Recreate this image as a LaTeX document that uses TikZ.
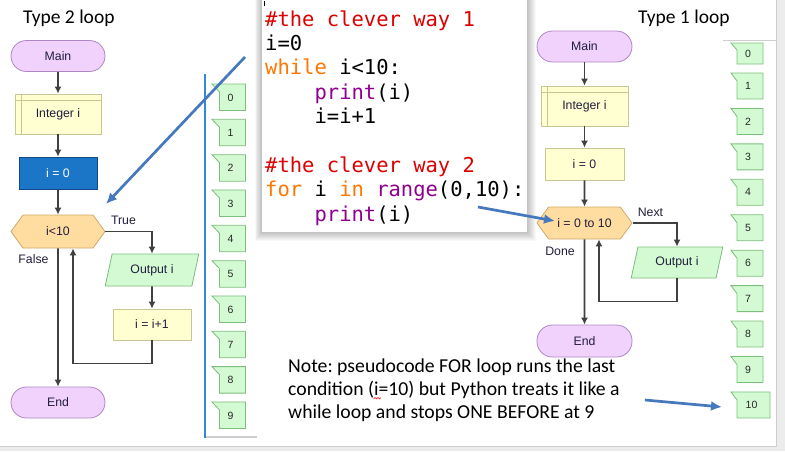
\documentclass[tikz,border=0pt]{standalone}
\usepackage{fontspec}
\setmainfont{Carlito}
\newfontfamily\chartfont{Liberation Sans}
\newfontfamily\codefont{DejaVu Sans Mono}
\usetikzlibrary{arrows.meta,shapes.geometric,shapes.symbols}
\frenchspacing
\definecolor{termfill}{RGB}{240,210,252}
\definecolor{termline}{RGB}{175,135,200}
\definecolor{procfill}{RGB}{255,255,210}
\definecolor{procline}{RGB}{200,200,150}
\definecolor{selfill}{RGB}{28,118,200}
\definecolor{selline}{RGB}{20,70,140}
\definecolor{condfill}{RGB}{255,220,160}
\definecolor{condline}{RGB}{205,170,105}
\definecolor{outfill}{RGB}{212,250,212}
\definecolor{outedge}{RGB}{125,190,125}
\definecolor{flowgrey}{RGB}{64,64,64}
\definecolor{annblue}{RGB}{70,120,190}
\definecolor{panelblue}{RGB}{55,135,215}
\definecolor{panelgrey}{RGB}{205,205,205}
\definecolor{bandgrey}{RGB}{236,236,236}
\definecolor{codered}{RGB}{221,0,0}
\definecolor{codeorange}{RGB}{255,119,0}
\definecolor{codepurple}{RGB}{144,0,144}
\definecolor{charttext}{RGB}{35,30,60}

\begin{document}
\begin{tikzpicture}[x=1pt, y=-1pt, >={Latex[length=7pt,width=7pt]},
	every node/.style={inner sep=0pt, text=charttext, font=\chartfont\fontsize{12.3}{14}\selectfont},
	term/.style={draw=termline, fill=termfill, line width=0.8pt, rounded corners=15.5pt, minimum width=94pt, minimum height=31pt},
	proc/.style={draw=procline, fill=procfill, line width=0.8pt, minimum height=32pt},
	cond/.style={signal, signal to=west and east, signal pointer angle=108, draw=condline, fill=condfill, line width=0.8pt, minimum width=94pt, minimum height=33pt},
	outp/.style={trapezium, trapezium left angle=72, trapezium right angle=108, trapezium stretches=true, draw=outedge, fill=outfill, line width=0.8pt, minimum width=94pt, minimum height=32pt},
	flow/.style={draw=flowgrey, line width=1.7pt, ->},
	bubble/.style={draw=outedge, fill=outfill, line width=0.8pt},
	bubnum/.style={font=\chartfont\fontsize{10.5}{12}\selectfont, text=black!85},
	annot/.style={draw=annblue, line width=2.7pt, -{Latex[length=11pt,width=10pt]}},
	heading/.style={font=\fontsize{19.5}{23}\selectfont, text=black, anchor=base west},
	codeline/.style={font=\codefont\fontsize{20.5}{24}\selectfont, text=black, anchor=base west},
	noteline/.style={font=\fontsize{19.7}{23}\selectfont, text=black, anchor=base west}]
	\useasboundingbox (0,0) rectangle (785,451);
	\fill[white] (0,0) rectangle (785,451);
	\fill[bandgrey] (0,446) rectangle (785,451);
	\fill[bandgrey] (776,0) rectangle (785,451);
	\draw[panelgrey, line width=0.8pt] (776,0) -- (776,446.5) -- (0,446.5);
	\draw[panelgrey, line width=0.8pt] (723,40) -- (776,40);
	\draw[panelgrey, line width=1.6pt] (205,437) -- (257,437);
	\draw[panelblue, line width=1.2pt] (205,74) -- (205,438);

	\foreach \s in {1,...,9}
		\fill[black, opacity=0.028] ({262-0.8*\s},-5) rectangle ({527+\s},{232+\s});
	\fill[white] (262,-5) rectangle (527,232);
	\draw[black, line width=0.6pt] (264,1) -- (264,6);

	\node[heading] (typeL) at (23,23) {Type 2 loop};
	\node[heading] (typeR) at (638,23) {Type 1 loop};

	\node[term] (mainL) at (58,56) {Main};
	\node[proc, minimum width=86pt, minimum height=40pt] (declL) at (58,114) {Integer i};
	\draw[procline, line width=0.8pt] ([xshift=7pt]declL.north west) -- ([xshift=7pt]declL.south west)
		([yshift=-7pt]declL.north west) -- ([yshift=-7pt]declL.north east);
	\node[proc, minimum width=78pt, draw=selline, fill=selfill, text=white] (initL) at (58,173) {i = 0};
	\node[cond] (condL) at (58,231.5) {i<10};
	\node[outp] (outL) at (152,270) {Output i};
	\node[proc, minimum width=78pt, minimum height=31pt] (incL) at (152,324.5) {i = i+1};
	\node[term] (endL) at (58,402.5) {End};
	\node (trueL) at (123.5,220) {True};
	\node (falseL) at (33.5,259) {False};

	\draw[flow] (mainL) -- (declL);
	\draw[flow] (declL) -- (initL);
	\draw[flow] (initL) -- (condL);
	\draw[flow] (condL.east) -| (outL.north);
	\draw[flow] (outL) -- (incL);
	\draw[flow] (incL.south) -- ++(0,23) -| ([xshift=15pt]condL.south);
	\draw[flow] (condL) -- (endL);

	\node[term, minimum width=95pt] (mainR) at (584.5,46.5) {Main};
	\node[proc, minimum width=87pt, minimum height=40pt] (declR) at (584.5,106) {Integer i};
	\draw[procline, line width=0.8pt] ([xshift=7pt]declR.north west) -- ([xshift=7pt]declR.south west)
		([yshift=-7pt]declR.north west) -- ([yshift=-7pt]declR.north east);
	\node[proc, minimum width=79pt] (initR) at (584.5,164) {i = 0};
	\node[cond, minimum width=95pt, minimum height=32pt] (condR) at (584.5,223) {i = 0 to 10};
	\node[outp, minimum width=92pt, minimum height=31pt] (outR) at (677,262.5) {Output i};
	\node[term, minimum width=95pt, minimum height=32pt] (endR) at (584.5,341) {End};
	\node (nextR) at (650.5,212) {Next};
	\node (doneR) at (560,251) {Done};

	\draw[flow] (mainR) -- (declR);
	\draw[flow] (declR) -- (initR);
	\draw[flow] (initR) -- (condR);
	\draw[flow] (condR.east) -| (outR.north);
	\draw[flow] (outR.south) -- ++(0,23) -| ([xshift=14.5pt]condR.south);
	\draw[flow] (condR) -- (endR);

	\foreach \k in {0,...,9}{
		\draw[bubble] (219.5,{84+35.33*\k}) coordinate (lb\k) ++(-7.5,0) -- ++(33.5,0) -- ++(0,26.5) -- ++(-26,0) -- ++(0,-18.5) -- cycle;
		\node[bubnum] (lo\k) at ([shift={(11,13.5)}]lb\k) {\k};
	}
	\draw[bubble] (737,43) coordinate (rb0) ++(-6,0) -- ++(32,0) -- ++(0,21) -- ++(-26,0) -- ++(0,-14) -- cycle;
	\node[bubnum] (ro0) at (748,53.5) {0};
	\foreach \k/\w in {1/26,2/26,3/26,4/26,5/26,6/26,7/26,8/26,9/26,10/33}{
		\draw[bubble] (737,{73+35.44*(\k-1)}) coordinate (rb\k) ++(-6,0) -- ++({\w+6},0) -- ++(0,26) -- ++(-\w,0) -- ++(0,-18) -- cycle;
		\node[bubnum] (ro\k) at ([shift={({\w/2-2},13)}]rb\k) {\k};
	}

	\node[codeline] (code1) at (265,26) {\textcolor{codered}{\#the clever way 1}};
	\node[codeline] (code2) at (265,50.4) {i=0};
	\node[codeline] (code3) at (265,74.8) {\textcolor{codeorange}{while} i<10:};
	\node[codeline] (code4) at (265,99.2) {\phantom{xxxx}\textcolor{codepurple}{print}(i)};
	\node[codeline] (code5) at (265,123.6) {\phantom{xxxx}i=i+1};
	\node[codeline] (code6) at (265,172.4) {\textcolor{codered}{\#the clever way 2}};
	\node[codeline] (code7) at (265,196.8) {\textcolor{codeorange}{for} i \textcolor{codeorange}{in} \textcolor{codepurple}{range}(0,10):};
	\node[codeline] (code8) at (265,221.2) {\phantom{xxxx}\textcolor{codepurple}{print}(i)};

	\node[noteline] (note1) at (288,372) {Note: pseudocode FOR loop runs the last};
	\node[noteline] (note2) at (288,395.3) {condition (i=10) but Python treats it like a};
	\node[noteline] (note3) at (288,418.6) {while loop and stops ONE BEFORE at 9};
	\draw[red, line width=0.6pt] (373.5,399) -- (375,397.5) -- (376.5,399) -- (378,397.5) -- (379.5,399) -- (381,397.5);

	\coordinate (a1s) at (245,57);
	\coordinate (a1e) at (106,204);
	\coordinate (a2s) at (478,207);
	\coordinate (a2e) at (555,221);
	\coordinate (a3s) at (645,400);
	\coordinate (a3e) at (722,407);
	\draw[annot] (a1s) -- (a1e);
	\draw[annot] (a2s) -- (a2e);
	\draw[annot] (a3s) -- (a3e);
\end{tikzpicture}
\end{document}
